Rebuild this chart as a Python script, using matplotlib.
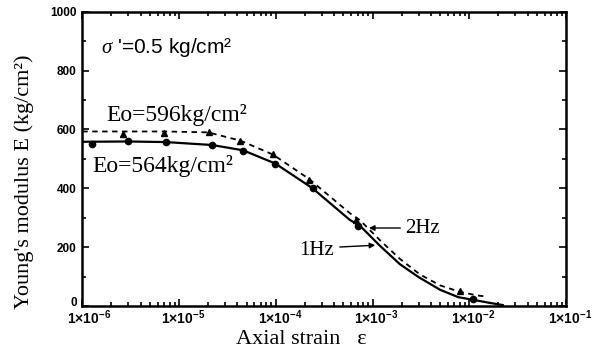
import matplotlib
matplotlib.use("Agg")
import matplotlib.pyplot as plt
from matplotlib.ticker import FixedLocator, MultipleLocator, LogLocator, NullFormatter
from matplotlib.transforms import ScaledTranslation

# ---- data ----
strain_1hz_pts = [1.26e-6, 3.0e-6, 7.3e-6, 2.2e-5, 4.6e-5, 9.9e-5, 2.4e-4, 7.0e-4, 1.09e-2]
E_1hz_pts = [550, 560, 557, 547, 527, 484, 400, 273, 24]

strain_2hz_pts = [2.65e-6, 7.0e-6, 2.06e-5, 4.27e-5, 9.3e-5, 2.23e-4, 6.7e-4, 8.0e-3]
E_2hz_pts = [584, 589, 591, 562, 515, 428, 292, 51]

strain_1hz_curve = [1e-6, 3e-6, 7.3e-6, 2.2e-5, 4.6e-5, 9.9e-5, 2.4e-4, 5.85e-4,
                    7.4e-4, 1.19e-3, 1.92e-3, 3.0e-3, 5.0e-3, 7.7e-3, 1.1e-2,
                    1.6e-2, 2.24e-2]
E_1hz_curve = [558, 559, 557, 547, 529, 484, 400, 292, 273, 205, 142, 98, 55, 30, 21,
               11, 3]

strain_2hz_curve = [1e-6, 7.2e-6, 2.0e-5, 4.3e-5, 9.3e-5, 2.2e-4, 5.85e-4, 7.4e-4,
                    1.19e-3, 1.92e-3, 3.1e-3, 5.0e-3, 8.0e-3, 1.2e-2, 1.52e-2]
E_2hz_curve = [593, 593, 590, 562, 515, 432, 315, 292, 224, 160, 107, 70, 48, 36, 32]

x_ticks = [1e-6, 1e-5, 1e-4, 1e-3, 1e-2, 1e-1]
x_ticklabels = [r"$\mathbf{1{\times}10^{-6}}$", r"$\mathbf{1{\times}10^{-5}}$",
                r"$\mathbf{1{\times}10^{-4}}$", r"$\mathbf{1{\times}10^{-3}}$",
                r"$\mathbf{1{\times}10^{-2}}$", r"$\mathbf{1{\times}10^{-1}}$"]
y_ticks = [0, 200, 400, 600, 800, 1000]
y_ticklabels = ["0", "200", "400", "600", "800", "1000"]

plt.rcParams['mathtext.fontset'] = 'custom'
plt.rcParams['mathtext.rm'] = 'Liberation Sans'
plt.rcParams['mathtext.bf'] = 'Liberation Sans:bold'
plt.rcParams['mathtext.it'] = 'Liberation Serif:italic'

fig = plt.figure(figsize=(5.94, 3.56), dpi=100)
ax = fig.add_axes([82.3 / 594, 1 - 306 / 356, (566 - 82.3) / 594, (306 - 11.7) / 356])

ax.plot(strain_1hz_curve, E_1hz_curve, color='black', lw=1.6, solid_capstyle='round',
        solid_joinstyle='round')
ax.plot(strain_2hz_curve, E_2hz_curve, color='black', lw=1.3, ls=(0, (3, 2.5)))
ax.plot(strain_1hz_pts, E_1hz_pts, 'o', color='black', ms=4.5, ls='none')
ax.plot(strain_2hz_pts, E_2hz_pts, '^', color='black', ms=4.5, ls='none')

ax.set_xscale('log')
ax.set_xlim(1e-6, 1e-1)
ax.set_ylim(0, 1000)

ax.xaxis.set_major_locator(FixedLocator(x_ticks))
ax.set_xticklabels(x_ticklabels, fontsize=10)
ax.xaxis.set_minor_locator(LogLocator(base=10, subs=range(2, 10), numticks=20))
ax.xaxis.set_minor_formatter(NullFormatter())
ax.yaxis.set_major_locator(FixedLocator(y_ticks))
ax.set_yticklabels(y_ticklabels, fontsize=8.5, fontweight='bold', family='Liberation Sans')
ax.yaxis.set_minor_locator(MultipleLocator(100))

ax.tick_params(which='both', direction='in', top=True, right=True, width=1.2)
ax.tick_params(which='major', length=5)
ax.tick_params(axis='x', which='major', pad=2)
ax.tick_params(axis='y', which='major', pad=4)
ax.tick_params(which='minor', length=3)
for s in ax.spines.values():
    s.set_linewidth(1.8)

xlbls = ax.get_xticklabels()
for i, lbl in enumerate(xlbls):
    dx = 7 if i == 0 else 4
    lbl.set_transform(lbl.get_transform() + ScaledTranslation(dx / 100, 0, fig.dpi_scale_trans))
zero_lbl = ax.get_yticklabels()[0]
zero_lbl.set_transform(zero_lbl.get_transform() + ScaledTranslation(0, 4 / 100, fig.dpi_scale_trans))

fig.text(24 / 594, 1 - 182 / 356, "Young's modulus E (kg/cm²)", rotation=90,
         ha='center', va='center', fontsize=16, family='Liberation Serif')
fig.text(301 / 594, 1 - 340 / 356, "Axial strain   ε", ha='center', va='center',
         fontsize=16, family='Liberation Serif')

ax.text(1.55e-6, 877, r"$\it{\sigma}$ '=0.5 kg/cm²", ha='left', va='center',
        fontsize=15, family='Liberation Sans')
ax.text(1.76e-6, 649, "Eo=596kg/cm²", ha='left', va='center', fontsize=17,
        family='Liberation Serif')
ax.text(1.26e-6, 476, "Eo=564kg/cm²", ha='left', va='center', fontsize=17,
        family='Liberation Serif')

ax.annotate("", xy=(8.6e-4, 265), xytext=(2.07e-3, 265),
            arrowprops=dict(arrowstyle='-|>', color='black', lw=1.0, mutation_scale=8))
ax.text(2.17e-3, 265, "2Hz", ha='left', va='center', fontsize=15, family='Liberation Serif')
ax.annotate("", xy=(1.14e-3, 207), xytext=(4.3e-4, 200),
            arrowprops=dict(arrowstyle='-|>', color='black', lw=1.0, mutation_scale=8))
ax.text(3.95e-4, 190, "1Hz", ha='right', va='center', fontsize=15, family='Liberation Serif')

fig.savefig("out.png", dpi=100, facecolor='white')
